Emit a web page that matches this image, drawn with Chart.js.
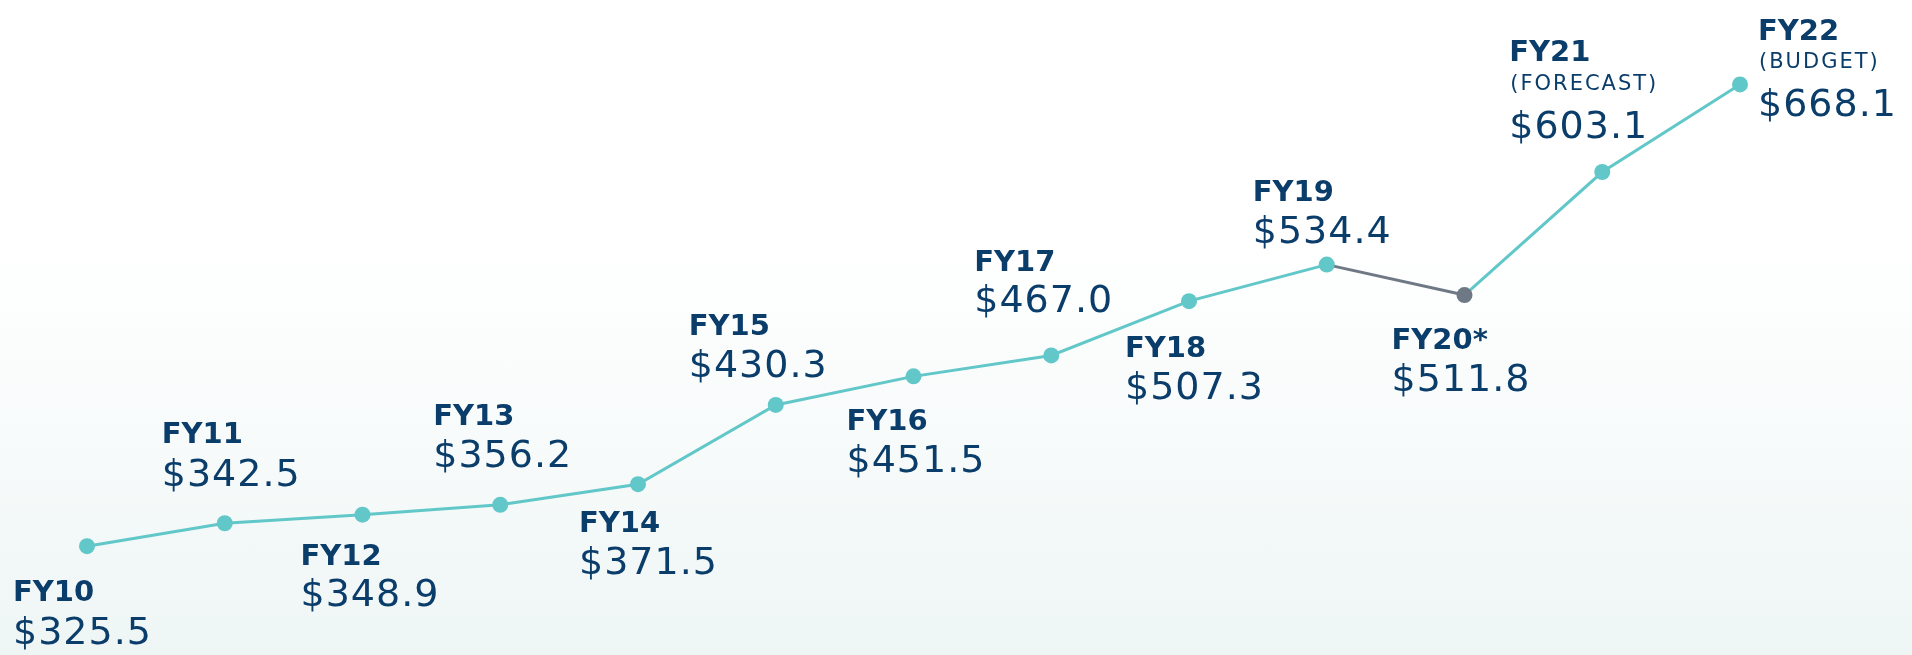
<!DOCTYPE html>
<html>
<head>
<meta charset="utf-8">
<title>Fiscal year totals</title>
<script src="https://cdn.jsdelivr.net/npm/chart.js@4.4.1/dist/chart.umd.min.js"></script>
<style>
  html, body {
    margin: 0;
    padding: 0;
  }
  body {
    width: 1912px;
    height: 655px;
    overflow: hidden;
    background: linear-gradient(to bottom, #ffffff 0%, #ffffff 38%, #eef6f5 100%);
  }
  #wrap {
    position: relative;
    width: 1912px;
    height: 655px;
  }
</style>
</head>
<body>
<div id="wrap">
  <canvas id="fyChart"></canvas>
</div>

<script>
// fiscal years, values in $ millions
const years = ['FY10', 'FY11', 'FY12', 'FY13', 'FY14', 'FY15', 'FY16',
               'FY17', 'FY18', 'FY19', 'FY20*', 'FY21', 'FY22'];
const amounts = [325.5, 342.5, 348.9, 356.2, 371.5, 430.3, 451.5,
                 467.0, 507.3, 534.4, 511.8, 603.1, 668.1];
const notes = ['', '', '', '', '', '', '', '', '', '', '', '(FORECAST)', '(BUDGET)'];

const teal = '#62c7c8';
const slate = '#6f7986';
const navy = '#0b3d6b';

// where each label block sits relative to its point:
// dx = left edge, fy / note / val = text baselines
const labelSpots = [
    { dx: -74, fy: 55,   val: 98 },
    { dx: -63, fy: -80,  val: -37 },
    { dx: -62, fy: 50,   val: 91 },
    { dx: -67, fy: -80,  val: -38 },
    { dx: -59, fy: 48,   val: 90 },
    { dx: -87, fy: -70,  val: -28 },
    { dx: -67, fy: 54,   val: 96 },
    { dx: -77, fy: -84,  val: -43 },
    { dx: -64, fy: 56,   val: 98 },
    { dx: -74, fy: -64,  val: -22 },
    { dx: -73, fy: 54,   val: 96 },
    { dx: -93, fy: -111, note: -82, val: -34 },
    { dx: 18,  fy: -44,  note: -16, val: 32 }
];

const isStarred = i => years[i].indexOf('*') !== -1;

const pointLabels = {
    id: 'pointLabels',
    afterDatasetsDraw(chart) {
        const ctx = chart.ctx;
        const pts = chart.getDatasetMeta(0).data;
        ctx.save();
        ctx.fillStyle = navy;
        ctx.textAlign = 'left';
        ctx.textBaseline = 'alphabetic';
        pts.forEach((pt, i) => {
            const spot = labelSpots[i];
            const x = pt.x + spot.dx;

            ctx.font = 'bold 29px "DejaVu Sans", sans-serif';
            ctx.letterSpacing = '0px';
            ctx.fillText(years[i], x, pt.y + spot.fy);

            if (notes[i]) {
                ctx.font = '21px "DejaVu Sans", sans-serif';
                ctx.letterSpacing = '2px';
                ctx.fillText(notes[i], x + 1, pt.y + spot.note);
            }

            ctx.font = '38px "DejaVu Sans", sans-serif';
            ctx.letterSpacing = '1px';
            ctx.fillText('$' + amounts[i].toFixed(1), x, pt.y + spot.val);
        });
        ctx.restore();
    }
};

new Chart(document.getElementById('fyChart'), {
    type: 'line',
    data: {
        labels: years,
        datasets: [{
            data: amounts,
            borderColor: teal,
            borderWidth: 3,
            tension: 0,
            clip: false,
            pointRadius: 8,
            pointHoverRadius: 8,
            pointBorderWidth: 0,
            pointBackgroundColor: years.map((y, i) => isStarred(i) ? slate : teal),
            segment: {
                borderColor: c => isStarred(c.p1DataIndex) ? slate : teal
            }
        }]
    },
    options: {
        responsive: true,
        maintainAspectRatio: false,
        animation: false,
        layout: {
            padding: { left: 87, right: 172, top: 0, bottom: 0 }
        },
        plugins: {
            legend: { display: false },
            tooltip: { enabled: false }
        },
        scales: {
            x: {
                display: false,
                offset: false
            },
            y: {
                display: false,
                min: 250.7,
                max: 724.8
            }
        }
    },
    plugins: [pointLabels]
});
</script>
</body>
</html>
